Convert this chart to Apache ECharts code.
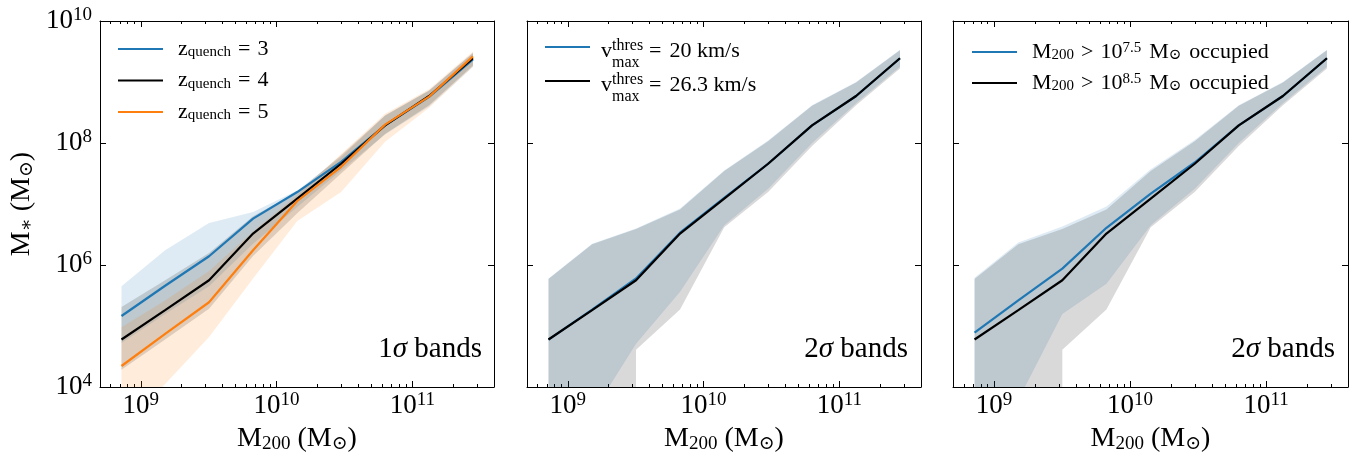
<!DOCTYPE html>
<html>
<head>
<meta charset="utf-8">
<script src="https://cdn.jsdelivr.net/npm/echarts@6/dist/echarts.min.js"></script>
<style>html,body{margin:0;padding:0;background:#fff}#c{width:1360px;height:459px}</style>
</head>
<body>
<div id="c"></div>
<script>
// ---------------- data ----------------
const haloMass = [7.2e8, 1.51e9, 3.18e9, 6.71e9, 1.42e10, 2.99e10, 6.3e10, 1.33e11, 2.8e11];
const xTickValues = [1e9, 1e10, 1e11];
const xMinorTicks = [6e8, 7e8, 8e8, 9e8, 2e9, 3e9, 4e9, 5e9, 6e9, 7e9, 8e9, 9e9,
  2e10, 3e10, 4e10, 5e10, 6e10, 7e10, 8e10, 9e10, 2e11, 3e11];
const yTickValues = [1e4, 1e6, 1e8, 1e10];

// Panel 1: quenching redshift (1 sigma bands)
const zq3Median = [1.46e5, 4.57e5, 1.39e6, 5.75e6, 1.57e7, 4.9e7, 1.95e8, 5.69e8, 2.34e9];
const zq3Upper  = [4.47e5, 1.74e6, 4.9e6, 7.41e6, 1.66e7, 5.89e7, 2.82e8, 7.24e8, 2.95e9];
const zq3Lower  = [5.25e4, 1.58e5, 4.47e5, 2.24e6, 8.91e6, 3.55e7, 1.38e8, 3.98e8, 1.78e9];
const zq4Median = [6.0e4, 1.82e5, 5.62e5, 3.27e6, 1.23e7, 4.57e7, 1.95e8, 5.89e8, 2.45e9];
const zq4Upper  = [2.04e5, 5.62e5, 1.58e6, 6.31e6, 1.58e7, 6.31e7, 2.82e8, 7.24e8, 3.02e9];
const zq4Lower  = [1.91e4, 6.03e4, 1.91e5, 1.41e6, 7.08e6, 3.16e7, 1.41e8, 4.17e8, 1.86e9];
const zq5Median = [2.21e4, 7.41e4, 2.45e5, 1.74e6, 1.12e7, 4.07e7, 2.0e8, 5.75e8, 2.63e9];
const zq5Upper  = [9.55e4, 2.63e5, 7.94e5, 3.55e6, 1.41e7, 6.61e7, 3.02e8, 7.59e8, 3.16e9];
const zq5Lower  = [2.0e3, 1.12e4, 6.61e4, 6.03e5, 5.25e6, 1.58e7, 1.05e8, 3.8e8, 1.78e9];

// Panel 2: vmax threshold (2 sigma bands)
const v20Median  = [5.98e4, 1.86e5, 6.03e5, 3.39e6, 1.26e7, 4.57e7, 1.95e8, 5.89e8, 2.45e9];
const v20Upper   = [5.98e5, 2.24e6, 3.98e6, 8.41e6, 3.55e7, 1.1e8, 4.17e8, 1.0e9, 3.39e9];
const v20Lower   = [1.0e3, 3.63e3, 5.13e4, 3.63e5, 4.47e6, 1.78e7, 1.0e8, 4.47e8, 1.78e9];
const v263Median = [6.0e4, 1.82e5, 5.62e5, 3.27e6, 1.23e7, 4.57e7, 1.95e8, 5.89e8, 2.45e9];
const v263Upper  = [5.89e5, 2.19e6, 3.89e6, 8.13e6, 3.47e7, 1.07e8, 4.07e8, 9.77e8, 3.31e9];
const v263Lower  = [null, null, 4.07e4, 1.86e5, 4.17e6, 1.58e7, 8.91e7, 4.17e8, 1.66e9];

// Panel 3: occupation threshold (2 sigma bands)
const m75Median = [7.76e4, 2.63e5, 8.71e5, 4.07e6, 1.48e7, 4.79e7, 1.95e8, 5.89e8, 2.45e9];
const m75Upper  = [6.17e5, 2.34e6, 4.27e6, 9.12e6, 3.72e7, 1.12e8, 4.17e8, 1.0e9, 3.39e9];
const m75Lower  = [1.0e3, 6.17e3, 1.58e5, 4.95e5, 4.47e6, 1.78e7, 1.0e8, 4.47e8, 1.78e9];
const m85Median = [6.0e4, 1.82e5, 5.62e5, 3.27e6, 1.23e7, 4.57e7, 1.95e8, 5.89e8, 2.45e9];
const m85Upper  = [5.89e5, 2.19e6, 3.89e6, 8.13e6, 3.47e7, 1.07e8, 4.07e8, 9.77e8, 3.31e9];
const m85Lower  = [null, null, 4.07e4, 1.86e5, 4.17e6, 1.58e7, 8.91e7, 4.17e8, 1.66e9];

// ---------------- styling / layout ----------------
const FONT = '"Liberation Serif","DejaVu Serif",serif';
const C0 = '#1f77b4', C1 = '#ff7f0e', CK = '#000000';
const F0 = 'rgba(31,119,180,0.15)', F1 = 'rgba(255,127,14,0.15)', FK = 'rgba(0,0,0,0.15)';

const tickRich = {
  b: {fontFamily: FONT, fontSize: 27, lineHeight: 30, color: '#000'},
  e: {fontFamily: FONT, fontSize: 19, lineHeight: 19, verticalAlign: 'top', color: '#000'}
};
const expFmt = v => '{b|10}{e|' + Math.round(Math.log10(v)) + '}';
const nameRich = {
  m: {fontFamily: FONT, fontSize: 28, lineHeight: 30, color: '#000'},
  s: {fontFamily: FONT, fontSize: 19, lineHeight: 19, verticalAlign: 'bottom', color: '#000'}
};
const lineSt = {color: '#000', width: 1};

const grids = [
  {left: 100, top: 21, width: 394, height: 366},
  {left: 527, top: 21, width: 394, height: 366},
  {left: 953, top: 21, width: 395, height: 366}
];

const xAxes = [], yAxes = [];
grids.forEach((g, gi) => {
  const mk = (pos, major, label) => ({
    type: 'log', logBase: 10, gridIndex: gi, position: pos, min: 5e8, max: 4e11,
    axisLine: {show: major, lineStyle: lineSt},
    axisTick: {show: true, inside: true, length: major ? 6 : 3, lineStyle: lineSt,
               customValues: major ? xTickValues : xMinorTicks},
    axisLabel: {show: label, customValues: xTickValues, formatter: expFmt, margin: 4, rich: tickRich},
    splitLine: {show: false}, minorTick: {show: false}, minorSplitLine: {show: false},
    name: label ? '{m|M}{s|200}{m| (M}{s|⊙}{m|)}' : '',
    nameLocation: 'middle', nameGap: 35,
    nameTextStyle: {fontFamily: FONT, fontSize: 28, color: '#000', rich: nameRich}
  });
  xAxes.push(mk('bottom', true, true), mk('bottom', false, false), mk('top', true, false), mk('top', false, false));
  const mky = (pos, label) => ({
    type: 'log', logBase: 10, gridIndex: gi, position: pos, min: 1e4, max: 1e10,
    axisLine: {show: true, lineStyle: lineSt},
    axisTick: {show: true, inside: true, length: 6, lineStyle: lineSt, customValues: yTickValues},
    axisLabel: {show: label, customValues: yTickValues, formatter: expFmt, margin: 8, rich: tickRich},
    splitLine: {show: false}, minorTick: {show: false},
    name: label ? '{m|M}{s|∗}{m| (M}{s|⊙}{m|)}' : '',
    nameLocation: 'middle', nameGap: 63, nameRotate: 90,
    nameTextStyle: {fontFamily: FONT, fontSize: 28, color: '#000', rich: nameRich}
  });
  yAxes.push(mky('left', gi === 0), mky('right', false));
});

function band(name, gi, upper, lower, fill) {
  return {
    type: 'custom', name: name, xAxisIndex: 4 * gi, yAxisIndex: 2 * gi, silent: true, z: 1,
    data: haloMass.map((x, i) => [x, upper[i], lower[i] == null ? '-' : lower[i]]),
    encode: {x: 0, y: [1, 2]},
    renderItem: (params, api) => {
      if (params.dataIndexInside !== 0) return null;
      const cs = params.coordSys;
      const bottom = cs.y + cs.height + 4;
      const topPts = [], lowPts = [];
      let prevMissing = false;
      for (let i = 0; i < haloMass.length; i++) {
        const x = api.value(0, i), u = api.value(1, i), l = api.value(2, i);
        const pu = api.coord([x, u]);
        topPts.push(pu);
        if (!(l > 0)) { lowPts.push([pu[0], bottom]); prevMissing = true; }
        else {
          const pl = api.coord([x, l]);
          if (prevMissing) lowPts.push([pl[0], bottom]);
          lowPts.push(pl);
          prevMissing = false;
        }
      }
      return {
        type: 'polygon', shape: {points: topPts.concat(lowPts.reverse())},
        style: {fill: fill, stroke: null},
        clipPath: {type: 'rect', shape: {x: cs.x, y: cs.y, width: cs.width, height: cs.height}}
      };
    }
  };
}
function line(name, gi, vals, color, z) {
  return {
    type: 'line', name: name, xAxisIndex: 4 * gi, yAxisIndex: 2 * gi,
    data: haloMass.map((x, i) => [x, vals[i]]),
    symbol: 'none', showSymbol: false, silent: true, z: z,
    lineStyle: {color: color, width: 2.2}, itemStyle: {color: color}
  };
}

const legendLabels = {
  zq3: '{g| }z{s|quench}{o|=}3',
  zq4: '{g| }z{s|quench}{o|=}4',
  zq5: '{g| }z{s|quench}{o|=}5',
  v20: '{sp| }\n{g| }{h|v}{t|thres}\n{g| }{m|v}{ht|thres}{mo|=}{m|20 km/s}\n{g| }{hm|v}{b|max}',
  v263: '{sp| }\n{g| }{h|v}{t|thres}\n{g| }{m|v}{ht|thres}{mo|=}{m|26.3 km/s}\n{g| }{hm|v}{b|max}',
  m75: '{g| }M{s|200}{o|>}10{p|7.5}{w|M}{s|⊙}{w|occupied}',
  m85: '{g| }M{s|200}{o|>}10{p|8.5}{w|M}{s|⊙}{w|occupied}'
};
const legRich = (gap) => ({
  g: {width: gap, lineHeight: 1},
  s: {fontFamily: FONT, fontSize: 15, lineHeight: 15, verticalAlign: 'bottom', color: '#000'},
  p: {fontFamily: FONT, fontSize: 15, lineHeight: 15, verticalAlign: 'top', color: '#000'},
  o: {fontFamily: FONT, fontSize: 22, lineHeight: 22, color: '#000', padding: [0, 7, 0, 7]},
  w: {fontFamily: FONT, fontSize: 22, lineHeight: 22, color: '#000', padding: [0, 0, 0, 8]},
  sp: {fontSize: 10, lineHeight: 19},
  h: {fontFamily: FONT, fontSize: 22, lineHeight: 2, color: 'rgba(0,0,0,0)'},
  t: {fontFamily: FONT, fontSize: 16, lineHeight: 2, color: '#000'},
  m: {fontFamily: FONT, fontSize: 22, lineHeight: 10, color: '#000'},
  mo: {fontFamily: FONT, fontSize: 22, lineHeight: 10, color: '#000', padding: [0, 8, 0, 6]},
  ht: {fontFamily: FONT, fontSize: 16, lineHeight: 10, color: 'rgba(0,0,0,0)'},
  hm: {fontFamily: FONT, fontSize: 22, lineHeight: 12, color: 'rgba(0,0,0,0)'},
  b: {fontFamily: FONT, fontSize: 16, lineHeight: 12, color: '#000'}
});
const mkLegend = (left, top, gap, itemGap, data) => ({
  left: left, top: top, orient: 'vertical', icon: 'rect', itemWidth: 45, itemHeight: 2, itemGap: itemGap,
  selectedMode: false, padding: 0, data: data,
  formatter: n => legendLabels[n],
  textStyle: {fontFamily: FONT, fontSize: 22, lineHeight: 22, color: '#000', rich: legRich(gap)}
});

const titleStyle = {fontFamily: FONT, fontSize: 29, fontWeight: 'normal', color: '#000', lineHeight: 30,
  rich: {i: {fontFamily: FONT, fontSize: 29, fontStyle: 'italic', color: '#000', lineHeight: 30}}};

const option = {
  backgroundColor: '#ffffff',
  animation: false,
  grid: grids.map(g => Object.assign({outerBoundsMode: 'none', containLabel: false}, g)),
  xAxis: xAxes,
  yAxis: yAxes,
  title: [
    {text: '1{i|σ} bands', right: 878, top: 334, padding: 0, textStyle: titleStyle},
    {text: '2{i|σ} bands', right: 452, top: 334, padding: 0, textStyle: titleStyle},
    {text: '2{i|σ} bands', right: 25, top: 334, padding: 0, textStyle: titleStyle}
  ],
  legend: [
    mkLegend(118, 38, 10, 9.5, ['zq3', 'zq4', 'zq5']),
    mkLegend(545, 25.5, 6, -14, ['v20', 'v263']),
    mkLegend(972, 41, 10, 9, ['m75', 'm85'])
  ],
  series: [
    band('zq3b', 0, zq3Upper, zq3Lower, F0),
    band('zq4b', 0, zq4Upper, zq4Lower, FK),
    band('zq5b', 0, zq5Upper, zq5Lower, F1),
    line('zq3', 0, zq3Median, C0, 3),
    line('zq4', 0, zq4Median, CK, 4),
    line('zq5', 0, zq5Median, C1, 5),
    band('v20b', 1, v20Upper, v20Lower, F0),
    band('v263b', 1, v263Upper, v263Lower, FK),
    line('v20', 1, v20Median, C0, 3),
    line('v263', 1, v263Median, CK, 4),
    band('m75b', 2, m75Upper, m75Lower, F0),
    band('m85b', 2, m85Upper, m85Lower, FK),
    line('m75', 2, m75Median, C0, 3),
    line('m85', 2, m85Median, CK, 4)
  ]
};
const chart = echarts.init(document.getElementById('c'), null, {renderer: 'canvas', width: 1360, height: 459});
chart.setOption(option);
</script>
</body>
</html>
